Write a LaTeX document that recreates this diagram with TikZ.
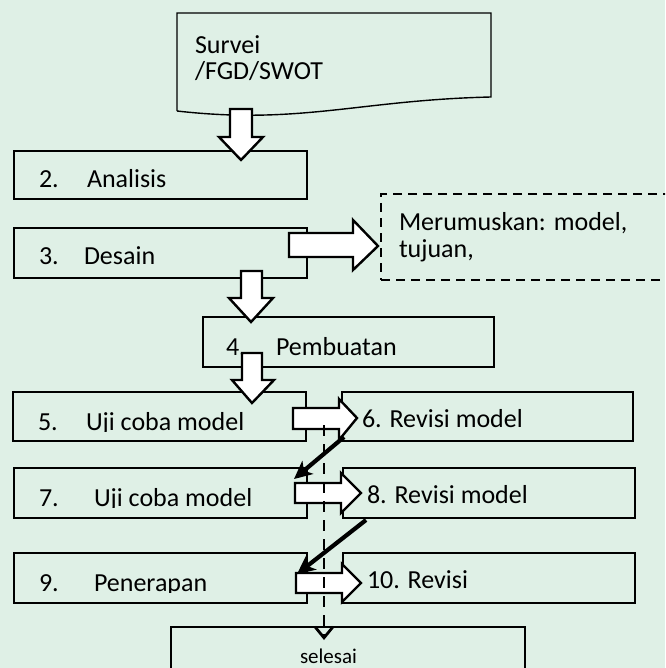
\documentclass[tikz,border=0pt]{standalone}
\usepackage{fontspec}
\setmainfont{Carlito}
\usetikzlibrary{arrows.meta}
\definecolor{bgmint}{RGB}{223,240,230}
\newcommand\mybox[5]{\node[boxst, minimum width=#4pt, minimum height=#5pt] (#1) at (#2,#3) {};}
% down block arrow: a b t h c d m p
\newcommand\darrow[8]{\draw[blk] (#1,#3) -- (#2,#3) -- (#2,#4) -- (#6,#4) -- (#7,#8) -- (#5,#4) -- (#1,#4) -- cycle;}
% right block arrow: l t b hb ht hbm tx ty
\newcommand\rarrow[8]{\draw[blk] (#1,#2) -- (#4,#2) -- (#4,#5) -- (#7,#8) -- (#4,#6) -- (#4,#3) -- (#1,#3) -- cycle;}
\begin{document}
\begin{tikzpicture}[x=1pt,y=-1pt,
  boxst/.style={draw=black, line width=1.4pt, inner sep=0pt, outer sep=0pt, anchor=north west},
  txt/.style={anchor=base west, inner sep=0pt, outer sep=0pt, font=\fontsize{26pt}{26pt}\selectfont},
  smalltxt/.style={anchor=base west, inner sep=0pt, outer sep=0pt, font=\fontsize{21pt}{21pt}\selectfont},
  blk/.style={draw=black, fill=white, line width=2.4pt, line join=miter},
  dashbox/.style={boxst, line width=2pt, dash pattern=on 9pt off 6pt},
  diag/.style={line width=4.2pt, -{Stealth[length=18pt,width=17pt,inset=5pt]}},
  dline/.style={line width=2.8pt, dash pattern=on 11pt off 8pt, -{Straight Barb[length=11pt,width=18pt]}}]
\useasboundingbox (0,0) rectangle (665,668);
\clip (0,0) rectangle (665,668);
\fill[bgmint] (0,0) rectangle (665,668);

% document shape
\draw[line width=1.4pt, line join=miter] (177,111) -- (177,13) -- (491,13) -- (491,97)
  .. controls (360,100) and (300,125) .. (177,111);
\node[txt] (t1a) at (195,54) {Survei};
\node[txt] (t1b) at (195,80) {/FGD/SWOT};

% boxes
\mybox{b2}{14}{151}{293}{48}
\mybox{b3}{14}{228}{293}{50}
\node[dashbox, minimum width=320pt, minimum height=86pt] (bm) at (381,194) {};
\mybox{b4}{203}{317}{291}{50}
\mybox{b5}{13}{392}{293}{49}
\mybox{b6}{342}{392}{291}{49}
\mybox{b7}{14}{468}{293}{50}
\mybox{b8}{343}{468}{292}{50}
\mybox{b9}{14}{553}{293}{50}
\mybox{b10}{343}{553}{292}{50}
\mybox{bs}{171}{627}{354}{70}

% texts
\node[txt] (t2n) at (39,188) {2.};
\node[txt] (t2) at (87,188) {Analisis};
\node[txt] (t3n) at (39,264) {3.};
\node[txt] (t3) at (84,264) {Desain};
\node[txt] (tma) at (399,230) {Merumuskan: model,};
\node[txt] (tmb) at (399,257) {tujuan,};
\node[txt] (t4n) at (226,355) {4.};
\node[txt] (t4) at (276,355) {Pembuatan};
\begin{scope}
\clip (0,0) rectangle (330,431);
\node[txt] (t5n) at (38,430) {5.};
\node[txt] (t5) at (86,430) {Uji coba model};
\end{scope}
\node[txt] (t6) at (362,427) {6. Revisi model};
\begin{scope}
\clip (0,0) rectangle (330,507);
\node[txt] (t7n) at (39,506) {7.};
\node[txt] (t7) at (94,506) {Uji coba model};
\end{scope}
\node[txt] (t8) at (367,503) {8. Revisi model};
\begin{scope}
\clip (0,0) rectangle (330,592);
\node[txt] (t9n) at (39,591) {9.};
\node[txt] (t9) at (94,591) {Penerapan};
\end{scope}
\node[txt] (t10) at (367,588) {10. Revisi};
\node[smalltxt] (ts) at (300,663) {selesai};

% block arrows
\darrow{230}{252}{109}{137}{219}{263}{241}{160}
\rarrow{289}{233}{257}{353}{220}{270}{378}{246}
\darrow{241}{262}{271}{298}{229}{273}{251}{322}
\darrow{242}{262}{353}{380}{232}{274}{252}{403}
\rarrow{293}{408}{429}{339}{399}{440}{357}{418}
\rarrow{295}{483}{503}{341}{473}{513}{361}{493}
\rarrow{296}{573}{593}{342}{564}{602}{361}{583}

% dashed vertical connector to selesai
\coordinate (dtop) at (324,425);
\coordinate (dend) at (324,640);
\draw[dline] (dtop) -- (dend);

% diagonal arrows
\coordinate (d1s) at (344,437);
\coordinate (d1e) at (294,479);
\coordinate (d2s) at (366,520);
\coordinate (d2e) at (297,574);
\draw[diag] (d1s) -- (d1e);
\draw[diag] (d2s) -- (d2e);
\end{tikzpicture}
\end{document}
